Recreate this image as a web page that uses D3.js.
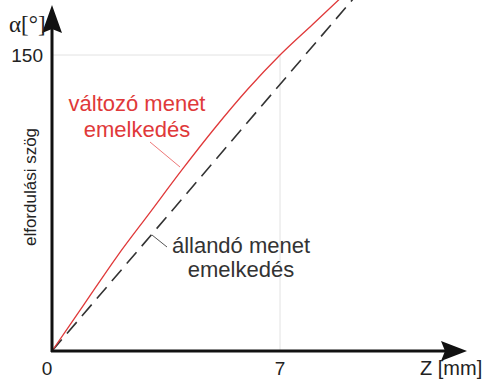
<!DOCTYPE html>
<html><head><meta charset="utf-8">
<script src="https://cdn.jsdelivr.net/npm/d3@7"></script>
<style>body{margin:0;background:#fff}svg{display:block}</style>
</head><body>
<script>
const zValues = [0,1,2,3,4,5,6,7,8,9];
const variableAlpha = [0,24,48,70,92,113,132.5,150,165.5,181];
const constZ = [0,10];
const constAlpha = [0,193];
const xTicks = [0,7];
const yTicks = [150];

const W=494,H=380;
const svg=d3.select("body").append("svg").attr("width",W).attr("height",H);
const x=d3.scaleLinear().domain([0,7]).range([52,280]);
const y=d3.scaleLinear().domain([0,150]).range([351,55]);
const font="Liberation Sans, Arial, sans-serif";

// grid to (7,150)
svg.append("line").attr("x1",x(0)).attr("x2",x(7)).attr("y1",y(150)).attr("y2",y(150)).attr("stroke","#e2e2e2").attr("stroke-width",1);
svg.append("line").attr("x1",x(7)).attr("x2",x(7)).attr("y1",y(150)).attr("y2",y(0)).attr("stroke","#e2e2e2").attr("stroke-width",1);

const line=d3.line().x(d=>x(d[0])).y(d=>y(d[1]));
svg.append("path").datum(constZ.map((z,i)=>[z,constAlpha[i]])).attr("d",line)
  .attr("fill","none").attr("stroke","#333").attr("stroke-width",1.6).attr("stroke-dasharray","15,8");
svg.append("path").datum(zValues.map((z,i)=>[z,variableAlpha[i]])).attr("d",line.curve(d3.curveMonotoneX))
  .attr("fill","none").attr("stroke","#e0393a").attr("stroke-width",1.3);

// axes
svg.append("line").attr("x1",52).attr("x2",52).attr("y1",352).attr("y2",28).attr("stroke","#111").attr("stroke-width",3);
svg.append("path").attr("d","M52,5 L62,33 L52,29 L42,33 Z").attr("fill","#111");
svg.append("line").attr("x1",51).attr("x2",448).attr("y1",351).attr("y2",351).attr("stroke","#111").attr("stroke-width",3);
svg.append("path").attr("d","M467,351 L441,341 L445,351 L441,361 Z").attr("fill","#111");

// ticks labels
xTicks.forEach(t=>svg.append("text").attr("x",x(t)+(t===0?-5:0)).attr("y",375).attr("text-anchor","middle")
  .attr("font-family",font).attr("font-size",19).attr("fill","#222").text(t));
yTicks.forEach(t=>svg.append("text").attr("x",43).attr("y",y(t)+7).attr("text-anchor","end")
  .attr("font-family",font).attr("font-size",19).attr("fill","#222").text(t));

svg.append("text").attr("x",420).attr("y",375).attr("font-family",font).attr("font-size",20).attr("fill","#222").text("Z [mm]");
svg.append("text").attr("x",9).attr("y",32).attr("font-family","Liberation Serif, Times New Roman, serif").attr("font-size",23).attr("fill","#222").text("α[°]");
svg.append("text").attr("transform","translate(36,187) rotate(-90)").attr("text-anchor","middle")
  .attr("font-family",font).attr("font-size",17).attr("fill","#222").text("elfordulási szög");

// annotations
svg.append("text").attr("x",137).attr("y",111).attr("text-anchor","middle").attr("font-family",font).attr("font-size",22).attr("fill","#e0393a").text("változó menet");
svg.append("text").attr("x",137).attr("y",137).attr("text-anchor","middle").attr("font-family",font).attr("font-size",22).attr("fill","#e0393a").text("emelkedés");
svg.append("line").attr("x1",150).attr("y1",142).attr("x2",180).attr("y2",167).attr("stroke","#e77").attr("stroke-width",1);

svg.append("text").attr("x",241).attr("y",253).attr("text-anchor","middle").attr("font-family",font).attr("font-size",22).attr("fill","#333").text("állandó menet");
svg.append("text").attr("x",241).attr("y",277).attr("text-anchor","middle").attr("font-family",font).attr("font-size",22).attr("fill","#333").text("emelkedés");
svg.append("line").attr("x1",152).attr("y1",235).attr("x2",167).attr("y2",247).attr("stroke","#555").attr("stroke-width",1);
</script>
</body></html>
